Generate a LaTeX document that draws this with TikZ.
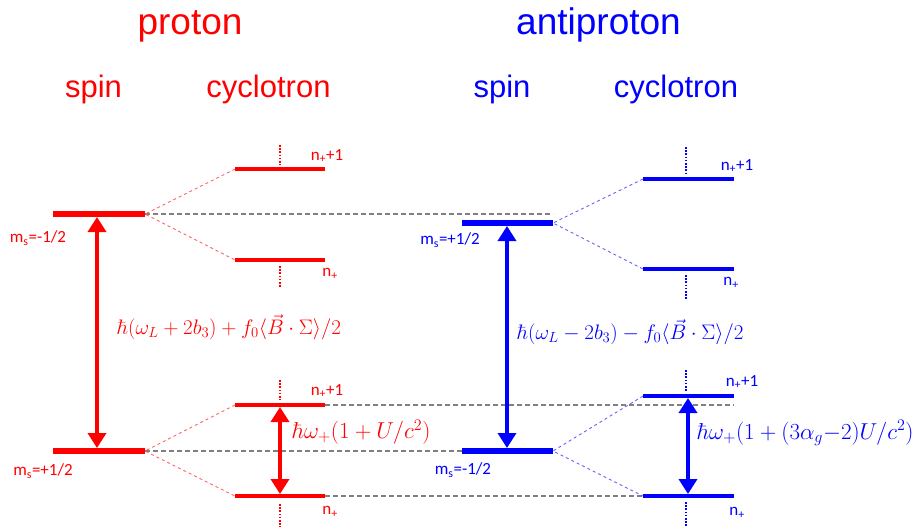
\RequirePackage{fix-cm}
\documentclass[tikz,border=0pt]{standalone}
\usepackage[no-math]{fontspec}
\setmainfont{Liberation Sans}
\newfontfamily\calibri{Carlito}
\usetikzlibrary{arrows.meta}
\definecolor{fanred}{RGB}{255,100,100}
\definecolor{fanblue}{RGB}{100,100,255}
\newcommand{\nplus}{n\textsubscript{+}}
\newcommand{\msub}{m\textsubscript{s}}
\begin{document}
\begin{tikzpicture}[x=1pt, y=-1pt,
	spinlvl/.style={line width=6.5pt},
	cyclvl/.style={line width=3.5pt},
	fan/.style={dashed, line width=0.9pt},
	guide/.style={gray, line width=1.2pt, dash pattern=on 5pt off 3pt},
	more/.style={line width=1.6pt, dash pattern=on 1.6pt off 1.6pt},
	trans/.style={{Triangle[length=15pt,width=18pt]}-{Triangle[length=15pt,width=18pt]}, line width=3.5pt},
	title/.style={font=\fontsize{37}{40}\selectfont, anchor=base},
	head/.style={font=\fontsize{31}{34}\selectfont, anchor=base},
	lbl/.style={font=\calibri\fontsize{17}{18}\selectfont, inner sep=0pt},
	eq/.style={font=\fontsize{21}{24}\selectfont, anchor=west, inner sep=0pt},
	cyceq/.style={eq, font=\fontsize{23}{25}\selectfont}]
	\useasboundingbox (0,0) rectangle (914,531);
	%\draw[dotted] (0,0) grid[step=50] (914,531);
	% levels
	\coordinate (pU1) at (53,214); \coordinate (pU2) at (145,214);
	\coordinate (pD1) at (53,451); \coordinate (pD2) at (145,451);
	\coordinate (aU1) at (462,223); \coordinate (aU2) at (553,223);
	\coordinate (aD1) at (462,451); \coordinate (aD2) at (553,451);
	\foreach \i/\y in {1/169,2/260,3/405,4/496}{
		\coordinate (pc\i a) at (235,\y);
		\coordinate (pc\i b) at (325,\y);
	}
	\foreach \i/\y in {1/179,2/269,3/396,4/496}{
		\coordinate (ac\i a) at (643,\y);
		\coordinate (ac\i b) at (734,\y);
	}
	\draw[guide] (pU2) -- (pU2 -| aU2);
	\draw[guide] (pD2) -- (aD1);
	\draw[guide] (pc3b) -- (pc3b -| ac3b);
	\draw[guide] (pc4b) -- (ac4a);
	\draw[fanred, fan] (pc1a) -- (pU2) -- (pc2a) (pc3a) -- (pD2) -- (pc4a);
	\draw[fanblue, fan] (ac1a) -- (aU2) -- (ac2a) (ac3a) -- (aD2) -- (ac4a);
	\draw[red, spinlvl] (pU1) -- (pU2) (pD1) -- (pD2);
	\draw[blue, spinlvl] (aU1) -- (aU2) (aD1) -- (aD2);
	\foreach \i in {1,...,4}{
		\draw[red, cyclvl] (pc\i a) -- (pc\i b);
		\draw[blue, cyclvl] (ac\i a) -- (ac\i b);
	}
	\draw[red, more] (280,145) -- (280,165) (280,266) -- (280,287)
		(280,380) -- (280,400) (280,504) -- (280,527);
	\draw[blue, more] (686,147) -- (686,173) (686,275) -- (686,299)
		(686,370) -- (686,391) (686,502) -- (686,526);
	% transitions
	\draw[red, trans, shorten <=3pt, shorten >=3pt] ([xshift=44pt]pU1) -- ([xshift=44pt]pD1);
	\draw[red, trans, shorten <=2pt, shorten >=2pt] ([xshift=45pt]pc3a) -- ([xshift=45pt]pc4a);
	\draw[blue, trans, shorten <=3pt, shorten >=3pt] ([xshift=45pt]aU1) -- ([xshift=45pt]aD1);
	\draw[blue, trans, shorten <=2pt, shorten >=2pt] ([xshift=45pt]ac3a) -- ([xshift=45pt]ac4a);
	% texts
	\node[red, title] (ptitle) at (190,34) {proton};
	\node[red, head] (pspin) at (93.5,97) {spin};
	\node[red, head] (pcyc) at (268.5,97) {cyclotron};
	\node[blue, title] (atitle) at (598.5,34) {antiproton};
	\node[blue, head] (aspin) at (502,97) {spin};
	\node[blue, head] (acyc) at (676,97) {cyclotron};
	\node[red, lbl] (pmsu) at (38,238) {\msub=-1/2};
	\node[red, lbl] (pmsd) at (43,471) {\msub=+1/2};
	\node[blue, lbl] (amsu) at (450,240) {\msub=+1/2};
	\node[blue, lbl] (amsd) at (463,470) {\msub=-1/2};
	\node[red, lbl] (pn1) at (327,156) {\nplus+1};
	\node[red, lbl] (pn2) at (330,274) {\nplus};
	\node[red, lbl] (pn3) at (327,391) {\nplus+1};
	\node[red, lbl] (pn4) at (330,512) {\nplus};
	\node[blue, lbl] (an1) at (737,166) {\nplus+1};
	\node[blue, lbl] (an2) at (731,283) {\nplus};
	\node[blue, lbl] (an3) at (742,382) {\nplus+1};
	\node[blue, lbl] (an4) at (737,513) {\nplus};
	\node[red, eq] (pspineq) at (117,327) {$\hbar(\omega_L+2b_3)+f_0\big\langle\vec{B}\cdot\Sigma\big\rangle/2$};
	\node[blue, eq] (aspineq) at (517,332) {$\hbar(\omega_L-2b_3)-f_0\big\langle\vec{B}\cdot\Sigma\big\rangle/2$};
	\node[red, cyceq] (pcyceq) at (292,432) {$\hbar\omega_+(1+U/c^2)$};
	\node[blue, cyceq] (acyceq) at (697,433) {$\hbar\omega_+\big(1+(3\alpha_g{-}2)U/c^2\big)$};
\end{tikzpicture}
\end{document}
